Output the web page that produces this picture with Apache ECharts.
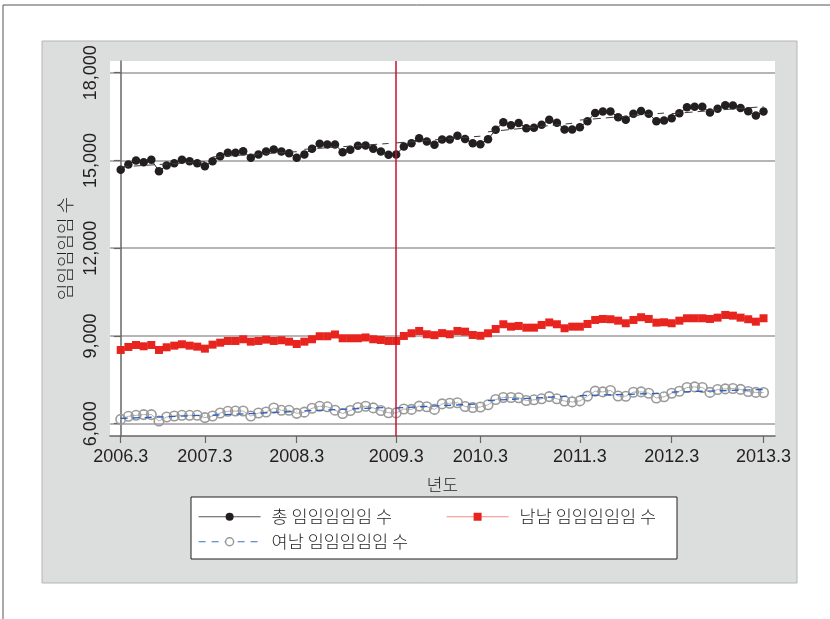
<!DOCTYPE html>
<html>
<head>
<meta charset="utf-8">
<script src="https://cdn.jsdelivr.net/npm/echarts@6/dist/echarts.min.js"></script>
<style>
  html, body { margin: 0; padding: 0; background: #fff; }
  #chart { width: 830px; height: 619px; }
</style>
</head>
<body>
<div id="chart"></div>
<script>
// Monthly counts, 2006.3 – 2013.3 (85 months)
const total = [
  14682, 14863, 15000, 14942, 15024, 14634, 14829, 14908, 15024, 14976, 14908, 14805,
  14976, 15147, 15263, 15263, 15318, 15092, 15205, 15308, 15376, 15308, 15250, 15092,
  15205, 15400, 15571, 15547, 15547, 15284, 15366, 15503, 15513, 15400, 15308, 15195,
  15205, 15479, 15592, 15762, 15650, 15537, 15718, 15718, 15845, 15730, 15592, 15557,
  15728, 16050, 16310, 16203, 16282, 16104, 16118, 16221, 16395, 16289, 16060, 16060,
  16139, 16344, 16624, 16675, 16675, 16480, 16392, 16597, 16692, 16597, 16344, 16368,
  16446, 16617, 16822, 16836, 16836, 16641, 16768, 16887, 16880, 16795, 16682, 16539, 16675
];
const male = [
  8521, 8624, 8692, 8647, 8692, 8521, 8613, 8669, 8716, 8669, 8634, 8566,
  8703, 8771, 8829, 8829, 8887, 8805, 8829, 8874, 8829, 8853, 8805, 8726,
  8805, 8887, 8990, 8990, 9051, 8921, 8921, 8921, 8949, 8887, 8863, 8829,
  8829, 9000, 9092, 9171, 9058, 9027, 9096, 9058, 9171, 9147, 9034, 9007,
  9092, 9239, 9400, 9318, 9342, 9284, 9284, 9376, 9462, 9400, 9263, 9318,
  9318, 9410, 9547, 9581, 9571, 9523, 9434, 9547, 9639, 9581, 9455, 9468,
  9434, 9523, 9605, 9605, 9605, 9581, 9626, 9718, 9694, 9626, 9571, 9489, 9605
];
const female = [
  6150, 6253, 6287, 6311, 6311, 6092, 6229, 6263, 6287, 6287, 6287, 6209,
  6263, 6366, 6424, 6434, 6434, 6263, 6366, 6400, 6537, 6458, 6458, 6355,
  6395, 6527, 6595, 6578, 6462, 6349, 6451, 6554, 6598, 6540, 6451, 6376,
  6369, 6503, 6489, 6602, 6581, 6489, 6677, 6701, 6718, 6588, 6554, 6571,
  6646, 6827, 6896, 6896, 6889, 6793, 6817, 6851, 6927, 6851, 6776, 6745,
  6780, 6944, 7115, 7087, 7135, 6947, 6940, 7077, 7087, 7043, 6879, 6920,
  7043, 7111, 7238, 7258, 7238, 7070, 7169, 7190, 7203, 7173, 7101, 7070, 7067
];

// Yearly trend segments (month index where each segment starts / ends)
const segStart = [0, 12, 24, 36, 48, 60, 72];
const segEnd   = [11, 23, 35, 47, 59, 71, 84];
const totalTrendFrom  = [14780, 15120, 15380, 15600, 15980, 16380, 16600];
const totalTrendTo    = [14960, 15300, 15580, 15830, 16270, 16620, 16840];
const femaleTrendFrom = [6180, 6290, 6440, 6540, 6790, 6960, 7080];
const femaleTrendTo   = [6290, 6420, 6560, 6680, 6950, 7040, 7170];

// Axis ticks
const xTickIdx = [0, 11, 23, 36, 47, 60, 72, 84];
const xTickLabels = ['2006.3', '2007.3', '2008.3', '2009.3', '2010.3', '2011.3', '2012.3', '2013.3'];
const yTicks = [6000, 9000, 12000, 15000, 18000];
const breakIdx = 36;

const seriesNames = ['총 임임임임임 수', '남남 임임임임임 수', '여남 임임임임임 수'];

const FONT = "'Liberation Sans', 'Noto Sans CJK KR', sans-serif";
const KFONT = "'Noto Sans CJK KR', 'Liberation Sans', sans-serif";
const INK = '#231f20';

const toPairs = arr => arr.map((v, i) => [i, v]);
function trendPairs(from, to) {
  const out = [];
  for (let k = 0; k < segStart.length; k++) {
    out.push([segStart[k], from[k]]);
    out.push([segEnd[k], to[k]]);
    out.push([segEnd[k] + 0.5, null]);
  }
  return out;
}

const chart = echarts.init(document.getElementById('chart'), null, { renderer: 'canvas' });

const legendBase = {
  orient: 'horizontal',
  itemWidth: 62,
  itemHeight: 10,
  padding: 0,
  selectedMode: false,
  textStyle: { fontFamily: KFONT, fontSize: 17.5, fontWeight: 300, color: INK, padding: [0, 0, 0, 6] }
};

chart.setOption({
  animation: false,
  backgroundColor: '#ffffff',
  graphic: [
    // outer frame
    { type: 'line', z: -20, shape: { x1: 3, y1: 5, x2: 830, y2: 5 }, style: { stroke: '#555', lineWidth: 1 } },
    { type: 'line', z: -20, shape: { x1: 3, y1: 5, x2: 3, y2: 619 }, style: { stroke: '#555', lineWidth: 1 } },
    // gray panel
    { type: 'rect', z: -10, shape: { x: 42, y: 41, width: 755, height: 542 },
      style: { fill: '#dcdddd', stroke: '#b5b5b5', lineWidth: 1 } },
    // legend box
    { type: 'rect', z: 1, shape: { x: 191, y: 497, width: 486, height: 62 },
      style: { fill: '#ffffff', stroke: INK, lineWidth: 1 } }
  ],
  grid: {
    left: 110, top: 61, right: 55, bottom: 183,
    show: true, backgroundColor: '#ffffff', borderWidth: 0
  },
  legend: [
    Object.assign({}, legendBase, { left: 198, top: 508,
      data: [{ name: seriesNames[0], lineStyle: { color: '#555', width: 1.2 } }] }),
    Object.assign({}, legendBase, { left: 446, top: 508,
      data: [{ name: seriesNames[1], lineStyle: { color: '#f08a86', width: 1.2 } }] }),
    Object.assign({}, legendBase, { left: 198, top: 533,
      data: [{ name: seriesNames[2], lineStyle: { color: '#3b6fc4', width: 1.2, type: [7, 6] },
               itemStyle: { color: '#ffffff', borderColor: '#999', borderWidth: 1.5 } }] })
  ],
  xAxis: {
    type: 'value',
    min: -1.4, max: 85.5,
    name: '년도',
    nameLocation: 'middle',
    nameGap: 40,
    nameTextStyle: { fontFamily: KFONT, fontSize: 17, fontWeight: 300, color: INK },
    axisLine: { show: true, lineStyle: { color: '#666', width: 1.5 } },
    axisTick: { show: true, length: 7, customValues: xTickIdx, lineStyle: { color: '#666', width: 1.2 } },
    axisLabel: {
      customValues: xTickIdx,
      margin: 12,
      fontFamily: FONT, fontSize: 18, color: INK,
      formatter: v => xTickLabels[xTickIdx.indexOf(Math.round(v))] || ''
    },
    splitLine: { show: false }
  },
  yAxis: {
    type: 'value',
    min: 5580, max: 18400,
    name: '임임임임임 수',
    nameLocation: 'middle',
    nameGap: 34,
    nameTextStyle: { fontFamily: KFONT, fontSize: 18, fontWeight: 300, color: INK },
    axisLine: { show: true, lineStyle: { color: '#666', width: 1.5 } },
    axisTick: { show: true, length: 7, customValues: yTicks, lineStyle: { color: '#666', width: 1.2 } },
    axisLabel: {
      customValues: yTicks,
      rotate: 90,
      margin: 10,
      fontFamily: FONT, fontSize: 18, color: INK,
      formatter: v => v.toLocaleString('en-US')
    },
    splitLine: { show: true, lineStyle: { color: '#9d9d9d', width: 1.5 } }
  },
  series: [
    {
      name: 'total-trend', type: 'line', z: 5, silent: true,
      data: trendPairs(totalTrendFrom, totalTrendTo),
      showSymbol: false, symbol: 'none', connectNulls: false,
      lineStyle: { color: '#3a3a3a', width: 1, type: [8, 5] }
    },
    {
      name: 'female-trend', type: 'line', z: 5, silent: true,
      data: trendPairs(femaleTrendFrom, femaleTrendTo),
      showSymbol: false, symbol: 'none', connectNulls: false,
      lineStyle: { color: '#2a5fc0', width: 1.3, type: [7, 5] }
    },
    {
      name: seriesNames[0], type: 'line', z: 4,
      data: toPairs(total),
      symbol: 'circle', symbolSize: 8.5, showAllSymbol: true,
      itemStyle: { color: INK },
      lineStyle: { color: INK, width: 1 }
    },
    {
      name: seriesNames[1], type: 'line', z: 4,
      data: toPairs(male),
      symbol: 'rect', symbolSize: 8, showAllSymbol: true,
      itemStyle: { color: '#e8241f' },
      lineStyle: { color: '#e8241f', width: 1 },
      markLine: {
        silent: true, symbol: ['none', 'none'],
        label: { show: false },
        lineStyle: { color: '#c8102e', width: 1.5, type: 'solid' },
        data: [{ xAxis: breakIdx }]
      }
    },
    {
      name: seriesNames[2], type: 'line', z: 3,
      data: toPairs(female),
      symbol: 'circle', symbolSize: 9.5, showAllSymbol: true,
      itemStyle: { color: 'rgba(255,255,255,0)', borderColor: '#9a9a9a', borderWidth: 1.6 },
      lineStyle: { color: '#b0b0b0', width: 1 }
    }
  ]
});
</script>
</body>
</html>
